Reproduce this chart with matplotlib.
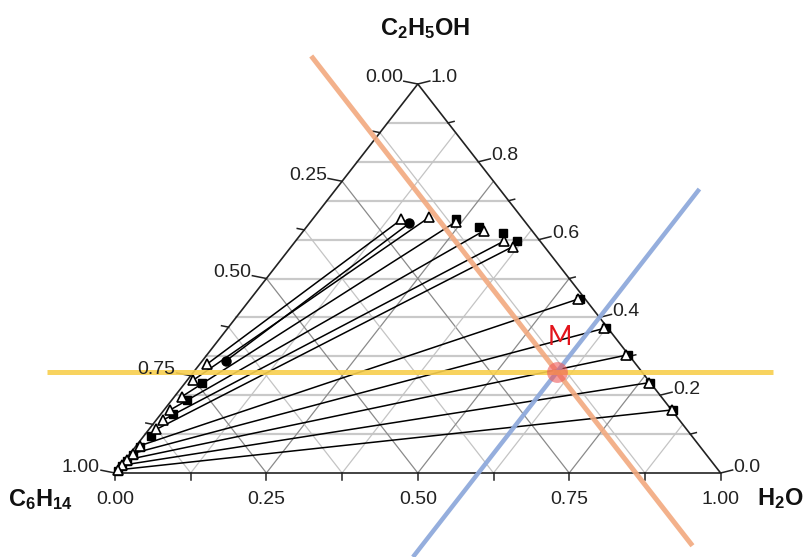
import numpy as np
import matplotlib.pyplot as plt

plt.rcParams['font.family'] = ['Liberation Sans', 'DejaVu Sans']
plt.rcParams['mathtext.fontset'] = 'custom'
plt.rcParams['mathtext.rm'] = 'Liberation Sans'
plt.rcParams['mathtext.bf'] = 'Liberation Sans:bold'
plt.rcParams['mathtext.it'] = 'Liberation Sans:italic'

# tie lines, mass fractions (water, ethanol); hexane is the remainder
# experimental points (open triangles)
org_w = [0.012, 0.010, 0.012, 0.010, 0.011, 0.012, 0.006, 0.004, 0.003, 0.002, 0.001]
org_e = [0.280, 0.239, 0.196, 0.162, 0.136, 0.112, 0.070, 0.050, 0.034, 0.020, 0.008]
aq_w = [0.147, 0.190, 0.240, 0.298, 0.344, 0.366, 0.541, 0.622, 0.693, 0.765, 0.838]
aq_e = [0.652, 0.657, 0.646, 0.623, 0.596, 0.582, 0.447, 0.372, 0.303, 0.232, 0.162]

# calculated points (filled squares)
calc_org_w = [0.028, 0.025, 0.020, 0.012, 0.008, 0.006, 0.004, 0.003, 0.002]
calc_org_e = [0.232, 0.188, 0.152, 0.095, 0.066, 0.046, 0.030, 0.017, 0.006]
calc_aq_w = [0.237, 0.2845, 0.332, 0.365, 0.544, 0.625, 0.696, 0.768, 0.841]
calc_aq_e = [0.652, 0.633, 0.618, 0.596, 0.448, 0.373, 0.303, 0.232, 0.162]

# second data set (filled circles)
circ_w = [0.039, 0.165]
circ_e = [0.288, 0.642]

# mixture point M
m_w, m_e = 0.60, 0.26
m_h = 1 - m_w - m_e

bottom_ticks = np.arange(0, 1.0001, 0.125)
bottom_labels = ['0.00', '0.25', '0.50', '0.75', '1.00']
right_ticks = np.arange(0, 1.0001, 0.1)
right_labels = ['0.0', '0.2', '0.4', '0.6', '0.8', '1.0']


def tern(w, e):
    w = np.asarray(w, dtype=float)
    e = np.asarray(e, dtype=float)
    return w + e / 2, e


W, H = 811, 557
fig = plt.figure(figsize=(W / 100, H / 100), dpi=100)
ax = fig.add_axes([0, 0, 1, 1])
x0, x1 = -115 / 605.6, (W - 115) / 605.6
y0, y1 = (473 - H) / 389, 473 / 389
ax.set_xlim(x0, x1)
ax.set_ylim(y0, y1)
ax.axis('off')
sx = (x1 - x0) / W   # data units per pixel
sy = (y1 - y0) / H

# grid
for e in np.arange(0.1, 0.95, 0.1):
    xs, ys = tern([0, 1 - e], [e, e])
    ax.plot(xs, ys, color='#c9c9c9', lw=1.6, zorder=1)
for k, v in enumerate(bottom_ticks[1:-1]):
    col = '#8a8a8a' if (k % 2 == 1) else '#c4c4c4'
    xs, ys = tern([v, v], [0, 1 - v])
    ax.plot(xs, ys, color=col, lw=0.9, zorder=1)
    xs, ys = tern([1 - v, 0], [0, 1 - v])
    ax.plot(xs, ys, color=col, lw=0.9, zorder=1)

# triangle frame
xs, ys = tern([0, 1, 0, 0], [0, 0, 1, 0])
ax.plot(xs, ys, color='#222222', lw=1.2, zorder=3)

lab = dict(textcoords='offset pixels', va='center', fontsize=14,
           color='#222222', zorder=10)

# bottom axis: water
for k, v in enumerate(bottom_ticks):
    px, py = tern(v, 0)
    ax.plot([px, px], [py, py - 7 * sy], color='#222222', lw=1.1, zorder=3)
    if k % 2 == 0:
        ax.annotate(bottom_labels[k // 2], (px, py), xytext=(0, -27),
                    ha='center', **lab)

# left axis: hexane
for k, v in enumerate(bottom_ticks):
    px, py = tern(0, 1 - v)
    n = 14 if k % 2 == 0 else 7
    ax.plot([px, px - n * sx], [py, py + n * 0.2 * sy], color='#222222',
            lw=1.1, zorder=3)
    if k % 2 == 0:
        ax.annotate(bottom_labels[k // 2], (px, py), xytext=(-15, 6),
                    ha='right', **lab)

# right axis: ethanol
for k, v in enumerate(right_ticks):
    px, py = tern(1 - v, v)
    n = 12 if k % 2 == 0 else 6
    ax.plot([px, px + n * sx], [py, py + n * 0.25 * sy], color='#222222',
            lw=1.1, zorder=3)
    if k % 2 == 0:
        ax.annotate(right_labels[k // 2], (px, py), xytext=(13, 6),
                    ha='left', **lab)

# component names at the corners
ttl = dict(textcoords='offset pixels', ha='center', va='baseline',
           fontsize=17, color='#111111', zorder=10)
ax.annotate(r'$\mathbf{C_2H_5OH}$', tern(0, 1), xytext=(7, 49), **ttl)
ax.annotate(r'$\mathbf{C_6H_{14}}$', tern(0, 0), xytext=(-75, -33), **ttl)
ax.annotate(r'$\mathbf{H_2O}$', tern(1, 0), xytext=(60, -32), **ttl)

# tie lines
for i in range(len(org_w)):
    xs, ys = tern([org_w[i], aq_w[i]], [org_e[i], aq_e[i]])
    ax.plot(xs, ys, color='black', lw=1.1, zorder=4)
xs, ys = tern(circ_w, circ_e)
ax.plot(xs, ys, color='black', lw=1.1, zorder=4)

# markers
for cw, ce in [(calc_org_w, calc_org_e), (calc_aq_w, calc_aq_e)]:
    xs, ys = tern(cw, ce)
    ax.plot(xs, ys, 's', color='black', ms=5.5, zorder=5)
xs, ys = tern(circ_w, circ_e)
ax.plot(xs, ys, 'o', color='black', ms=6.5, zorder=5)
for tw, te in [(org_w, org_e), (aq_w, aq_e)]:
    xs, ys = tern(tw, te)
    ax.plot(xs, ys, '^', mfc='white', mec='black', mew=1.2, ms=7.5, zorder=6)

# construction lines through M
e_line = np.array([-0.187, 1.072])
xs, ys = tern((1 - m_h) - e_line, e_line)
ax.plot(xs, ys, color='#F2A97F', lw=3.6, alpha=0.9, solid_capstyle='butt', zorder=7)
e_line = np.array([-0.216, 0.73])
xs, ys = tern([m_w, m_w], e_line)
ax.plot(xs, ys, color='#8FAADC', lw=3.2, alpha=0.95, solid_capstyle='butt', zorder=7)
ax.plot([-0.112, 1.087], [m_e, m_e], color='#F8CF4E', lw=3.6, alpha=0.9,
        solid_capstyle='butt', zorder=7)

mx, my = tern(m_w, m_e)
ax.plot(mx, my, 'o', color='#EE5A5A', alpha=0.6, ms=15, mew=0, zorder=8)
ax.annotate('M', (mx, my), xytext=(3, 34), textcoords='offset pixels',
            ha='center', va='center', fontsize=19, color='#E3141B',
            family=['Lato', 'DejaVu Sans'], zorder=9)

fig.savefig('out.png', dpi=100)
